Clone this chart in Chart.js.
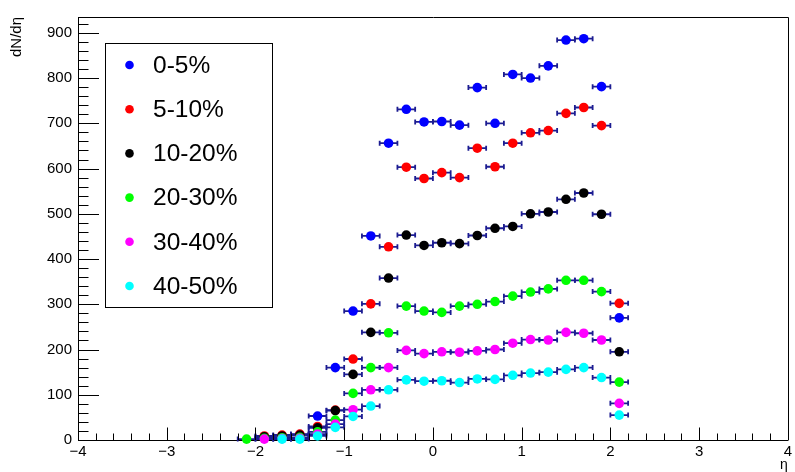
<!DOCTYPE html>
<html>
<head>
<meta charset="utf-8">
<script src="https://cdn.jsdelivr.net/npm/chart.js@4/dist/chart.umd.min.js"></script>
<style>
  html, body { margin: 0; padding: 0; background: #ffffff; }
  canvas { display: block; }
</style>
</head>
<body>
<canvas id="chart" width="795" height="472"></canvas>
<script>
// Pseudorapidity bin centres (bin width 0.2)
const etaBins = [-2.1, -1.9, -1.7, -1.5, -1.3, -1.1, -0.9, -0.7, -0.5, -0.3, -0.1,
                  0.1,  0.3,  0.5,  0.7,  0.9,  1.1,  1.3,  1.5,  1.7,  1.9,  2.1];
const etaHalfWidth = 0.1;

// dN/deta per centrality class (null = no measurement in that bin)
const cent0to5   = [null,    6,    9,   12,   53,  160,  285,  451,  656,  731,  703,
                     704,  696,  779,  700,  808,  800,  827,  884,  887,  781,  270];
const cent5to10  = [null,    9,   11,   13,   30,   66,  179,  301,  427,  603,  578,
                     591,  580,  645,  604,  656,  679,  684,  722,  735,  695,  302];
const cent10to20 = [null,    7,    9,   11,   27,   65,  145,  238,  358,  453,  430,
                     436,  434,  452,  468,  472,  500,  504,  532,  546,  499,  195];
const cent20to30 = [   2,    4,    5,    6,   18,   44,  103,  160,  237,  296,  285,
                     282,  296,  300,  306,  318,  327,  334,  353,  353,  328,  128];
const cent30to40 = [null,    2,    3,    4,   13,   35,   67,  111,  160,  198,  191,
                     195,  194,  197,  200,  214,  222,  221,  238,  236,  221,   81];
const cent40to50 = [null, null,    2,    2,    9,   28,   52,   75,  111,  133,  130,
                     131,  127,  135,  134,  143,  148,  150,  156,  160,  138,   55];

const seriesLabels = ['0-5%', '5-10%', '10-20%', '20-30%', '30-40%', '40-50%'];
const seriesValues = [cent0to5, cent5to10, cent10to20, cent20to30, cent30to40, cent40to50];
const seriesColors = ['#0000ff', '#ff0000', '#000000', '#00ff00', '#ff00ff', '#00ffff'];

// Axis tick values
const xMajorTicks = [-4, -3, -2, -1, 0, 1, 2, 3, 4];
const yMajorTicks = [0, 100, 200, 300, 400, 500, 600, 700, 800, 900];

const FONT = "'Liberation Sans', Arial, Helvetica, sans-serif";
const ERR_COLOR = '#1c1c92';

const datasets = seriesValues.map((vals, i) => ({
  label: seriesLabels[i],
  data: etaBins.map((x, k) => ({ x: x, y: vals[k] })).filter(p => p.y !== null),
  backgroundColor: seriesColors[i],
  borderColor: seriesColors[i],
  borderWidth: 0,
  pointRadius: 4.8,
  pointHoverRadius: 4.8,
  showLine: false,
  clip: false,
  order: seriesValues.length - 1 - i
}));

// Horizontal bin-width error bars, drawn just before each marker set
const errorBars = {
  id: 'errorBars',
  beforeDatasetDraw(chart, args) {
    const { ctx, scales: { x, y } } = chart;
    const ds = chart.data.datasets[args.index];
    ctx.save();
    ctx.strokeStyle = ERR_COLOR;
    ctx.lineWidth = 1.8;
    ds.data.forEach(p => {
      const x0 = x.getPixelForValue(p.x - etaHalfWidth);
      const x1 = x.getPixelForValue(p.x + etaHalfWidth);
      const py = y.getPixelForValue(p.y);
      ctx.beginPath();
      ctx.moveTo(x0, py); ctx.lineTo(x1, py);
      ctx.moveTo(x0, py - 2.5); ctx.lineTo(x0, py + 2.5);
      ctx.moveTo(x1, py - 2.5); ctx.lineTo(x1, py + 2.5);
      ctx.stroke();
    });
    ctx.restore();
  }
};

// Frame box and inward-pointing major/minor ticks
const frameTicks = {
  id: 'frameTicks',
  afterDatasetsDraw(chart) {
    const { ctx, chartArea: a, scales: { x, y } } = chart;
    ctx.save();
    ctx.strokeStyle = '#000000';
    ctx.lineWidth = 1;
    ctx.beginPath();
    // x ticks every 0.2, major at integers
    for (let k = -20; k <= 20; k++) {
      const v = k / 5;
      const px = Math.round(x.getPixelForValue(v)) + 0.5;
      const len = (k % 5 === 0) ? 12.5 : 6.5;
      ctx.moveTo(px, a.bottom); ctx.lineTo(px, a.bottom - len);
    }
    // y ticks every 20, major at hundreds
    for (let v = 0; v <= y.max; v += 20) {
      const py = Math.round(y.getPixelForValue(v)) + 0.5;
      const len = (v % 100 === 0) ? 21 : 10.5;
      ctx.moveTo(a.left, py); ctx.lineTo(a.left + len, py);
    }
    ctx.stroke();
    ctx.beginPath();
    ctx.moveTo(Math.round(a.left) + 0.5, Math.round(a.top) + 0.5);
    ctx.lineTo(Math.round(a.right) + 0.5, Math.round(a.top) + 0.5);
    ctx.lineTo(Math.round(a.right) + 0.5, Math.round(a.bottom) + 0.5);
    ctx.stroke();
    ctx.restore();
  }
};

// Boxed legend inside the plot region
const boxLegend = {
  id: 'boxLegend',
  afterDraw(chart) {
    const { ctx } = chart;
    const left = 105, top = 43, width = 167, height = 264;
    ctx.save();
    ctx.fillStyle = '#ffffff';
    ctx.fillRect(left, top, width, height);
    ctx.strokeStyle = '#000000';
    ctx.lineWidth = 1;
    ctx.strokeRect(left + 0.5, top + 0.5, width, height);
    ctx.font = '24.5px ' + FONT;
    ctx.textBaseline = 'middle';
    ctx.textAlign = 'left';
    chart.data.datasets.forEach((ds, i) => {
      const cy = 65 + i * 44.2;
      ctx.fillStyle = ds.backgroundColor;
      ctx.beginPath();
      ctx.arc(129.5, cy, 4.3, 0, Math.PI * 2);
      ctx.fill();
      ctx.fillStyle = '#000000';
      ctx.fillText(ds.label, 153, cy + 1);
    });
    ctx.restore();
  }
};

new Chart(document.getElementById('chart'), {
  type: 'scatter',
  data: { datasets },
  plugins: [errorBars, frameTicks, boxLegend],
  options: {
    responsive: false,
    devicePixelRatio: 1,
    animation: false,
    events: [],
    layout: { padding: { left: 0, right: 4, top: 17, bottom: 0 } },
    plugins: { legend: { display: false }, tooltip: { enabled: false } },
    scales: {
      x: {
        type: 'linear',
        min: -4, max: 4,
        afterBuildTicks: s => { s.ticks = xMajorTicks.map(v => ({ value: v })); },
        afterFit: s => { s.height = 32; },
        grid: { display: false, drawTicks: false, tickLength: 0 },
        border: { display: true, color: '#000000', width: 1 },
        ticks: {
          color: '#000000', padding: 3, maxRotation: 0,
          font: { family: FONT, size: 15 },
          callback: v => (v < 0 ? '\u2212' + Math.abs(v) : String(v))
        },
        title: {
          display: true, text: '\u03b7', align: 'end', color: '#000000',
          font: { family: FONT, size: 14 }, padding: { top: 0, bottom: -2 }
        }
      },
      y: {
        type: 'linear',
        min: 0, max: 935,
        afterBuildTicks: s => { s.ticks = yMajorTicks.map(v => ({ value: v })); },
        afterFit: s => { s.width = 78; },
        grid: { display: false, drawTicks: false, tickLength: 0 },
        border: { display: true, color: '#000000', width: 1 },
        ticks: {
          color: '#000000', padding: 6,
          font: { family: FONT, size: 15 }
        },
        title: {
          display: true, text: 'dN/d\u03b7', align: 'end', color: '#000000',
          font: { family: FONT, size: 15 }, padding: { top: 8, bottom: 0 }
        }
      }
    }
  }
});
</script>
</body>
</html>
